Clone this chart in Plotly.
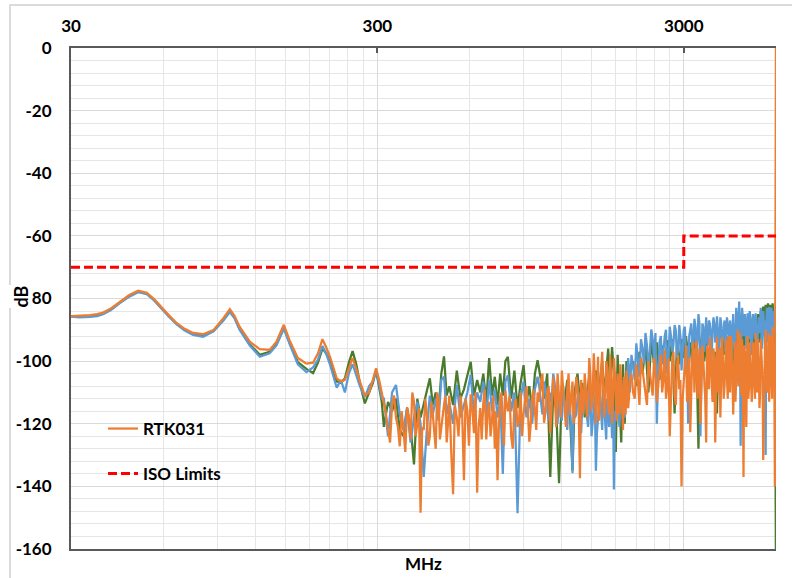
import math
import plotly.graph_objects as go

# ---------------- data ----------------
# Smooth part of the sweep, 30 - 310 MHz
freq_low = [30, 32, 34.6, 36.5, 38.2, 40.5, 43.3, 46.5, 49.7, 53,
            56, 58.9, 62.5, 66.4, 70.5, 75.1, 81, 87.5, 94.3, 99,
            102.5, 106.5, 111, 115, 124, 133.5, 140.5, 148.5, 155, 165,
            176, 185, 192, 198.5, 204, 210, 221, 228, 235, 242,
            249, 256, 263, 273, 282, 290, 297, 304, 310]

rtk031_low = [-85.6, -85.5, -85.3, -85.0, -84.5, -83.2, -81.0, -78.9, -77.5, -78.2,
              -80.2, -82.6, -85.3, -87.9, -89.7, -91.0, -91.4, -90.1, -86.3, -83.4,
              -85.5, -89.0, -91.6, -93.8, -96.2, -96.4, -93.8, -88.4, -93.3, -99.0,
              -100.8, -100.5, -97.5, -93.0, -95.5, -98.6, -105.5, -106.5, -106.0, -102.5,
              -99.0, -102.5, -106.5, -111.0, -110.0, -106.0, -102.3, -106.0, -109.5]

blue_low = [-85.8, -86.0, -85.9, -85.6, -85.0, -83.7, -81.5, -79.4, -78.0, -78.6,
            -80.6, -83.0, -85.7, -88.3, -90.2, -91.6, -92.2, -90.5, -87.0, -84.3,
            -86.3, -90.0, -92.8, -95.0, -98.6, -97.5, -95.0, -89.6, -94.5, -101.0,
            -103.5, -102.0, -99.5, -95.2, -97.5, -101.0, -108.5, -106.0, -110.0, -104.0,
            -101.0, -104.5, -108.0, -111.5, -108.0, -106.5, -103.0, -107.5, -112.0]

green_low = [-85.7, -85.8, -85.6, -85.3, -84.8, -83.5, -81.3, -79.2, -77.8, -78.4,
             -80.4, -82.8, -85.5, -88.1, -90.0, -91.3, -91.8, -90.4, -86.8, -84.0,
             -86.0, -89.7, -92.4, -94.6, -98.0, -97.0, -94.6, -89.4, -94.0, -100.3,
             -102.5, -103.8, -100.5, -96.0, -97.5, -100.0, -106.5, -107.0, -105.5, -100.5,
             -96.8, -101.0, -107.0, -113.5, -110.0, -107.0, -103.0, -108.0, -113.0]

# Noisy part of the sweep, 315 - 6000 MHz
freq_high = [315, 325, 335, 345, 355, 365, 375, 385, 395, 405,
             415, 425, 435, 445, 455, 465, 475, 485, 495, 505,
             515, 530, 545, 560, 575, 590, 605, 620, 635, 650,
             665, 680, 695, 710, 725, 740, 755, 770, 785, 800,
             820, 840, 860, 880, 900, 920, 940, 960, 980, 1000,
             1025, 1050, 1075, 1100, 1125, 1150, 1175, 1200, 1225, 1250,
             1275, 1300, 1325, 1350, 1375, 1400, 1425, 1450, 1475, 1500,
             1525, 1550, 1575, 1600, 1625, 1650, 1675, 1700, 1725, 1750,
             1775, 1800, 1825, 1850, 1875, 1900, 1925, 1950, 1975, 2000,
             2050, 2100, 2150, 2200, 2250, 2300, 2350, 2400, 2450, 2500,
             2550, 2600, 2650, 2700, 2750, 2800, 2850, 2900, 2950, 3000,
             3050, 3100, 3150, 3200, 3250, 3300, 3350, 3400, 3450, 3500,
             3550, 3600, 3650, 3700, 3750, 3800, 3850, 3900, 3950, 4000,
             4050, 4100, 4150, 4200, 4250, 4300, 4350, 4400, 4450, 4500,
             4550, 4600, 4650, 4700, 4750, 4800, 4850, 4900, 4950, 5000,
             5050, 5100, 5150, 5200, 5250, 5300, 5350, 5400, 5450, 5500,
             5550, 5600, 5650, 5700, 5750, 5800, 5850, 5900, 5950, 6000]

rtk031_high = [-113.4, -122, -113.8, -118, -127.2, -122, -114.7, -125, -113, -120,
               -148.4, -122, -117, -124, -117, -128, -112, -121, -114, -126,
               -111, -142.5, -118, -111, -138, -116, -110.6, -123, -142, -115,
               -113.4, -125, -113, -119, -128, -138, -112, -120, -109.5, -116,
               -124, -114, -121, -110, -117, -108, -125.7, -112, -118, -110,
               -106.5, -119.7, -110, -123, -105, -121, -112, -103, -115, -109,
               -117, -106.5, -114, -108, -137.4, -112, -104, -118, -99, -116,
               -97.5, -120, -98.6, -114, -97, -118, -100, -115, -98, -120,
               -99, -113, -104, -117, -108, -122, -110, -103, -115, -106,
               -110, -101, -114, -103, -112, -100, -108, -99, -113, -101,
               -110, -96.5, -108, -124, -100, -111, -102, -109, -140, -104,
               -95, -108, -122.7, -97, -110, -93.5, -104, -120, -95, -106,
               -126, -98, -92.5, -107, -96, -126, -92.3, -100, -118, -92.3,
               -112, -96, -105, -92, -110, -99, -117, -94, -106, -90,
               -95, -102, -93, -137, -97, -121, -92, -108, -100, -113,
               -94, -105, -91, -110, -98, -115, -93, -104, -131.6, -99,
               -90, -109, -95, -113, -92, -104, -89, -108, -140, 10]

blue_high = [-112, -124, -110, -107.6, -117, -122, -115, -126, -118, -113,
             -120, -137, -122, -111, -117, -112, -119, -106, -105, -117,
             -113, -120, -107.6, -118, -114, -110, -104.3, -117, -110, -113,
             -106.5, -118, -106, -116, -109, -118, -111, -136, -106.5, -104.5,
             -116, -110, -148.6, -112, -106.5, -118, -112, -120, -109, -105,
             -112, -106.5, -115, -110, -104, -116, -111, -119, -113, -122,
             -115, -135.8, -118, -112, -120, -114, -109, -118, -113, -124,
             -115, -135, -117, -111, -122, -114, -125, -118, -112, -124.6,
             -141, -119, -112, -121, -115, -110, -118, -108, -99, -110,
             -103, -94.3, -105, -96, -91, -102, -89.9, -99, -120, -94,
             -101, -92, -104, -89, -97, -88.5, -99, -88.5, -103, -90,
             -98, -120, -89, -96, -86.5, -97, -85, -124, -88, -97,
             -86, -95, -88, -99, -86, -94, -85.7, -98, -86, -95,
             -88, -97, -86, -94, -87, -99, -85, -93, -83, -91,
             -81, -127, -83, -92, -85, -96, -84.7, -93, -86, -98,
             -85, -92, -84.7, -97, -86, -91, -83, -96, -84, -92,
             -130, -83, -94, -82.7, -90, -83, -95, -84, -91, -84]

green_high = [-121, -113, -116, -112, -122, -124, -115, -121, -133, -112,
              -118, -114, -110, -105.5, -114, -110, -116, -104, -98.5, -111,
              -108, -114, -103, -112, -109, -104, -100.2, -111, -106, -110,
              -104, -113, -99, -111, -105, -114, -104, -111, -100, -98.6,
              -112, -103, -115, -107, -101.3, -113, -108, -116, -104, -99.7,
              -106, -112, -104, -137, -110, -115, -139, -108, -113, -106,
              -117, -135, -109, -104, -113, -107, -118, -110, -105, -114,
              -108, -103, -112, -106, -100, -111, -103, -96, -108, -95.5,
              -104, -129, -98, -110, -126, -101, -120, -100, -112, -104,
              -100, -108, -97, -104, -95, -110, -93.3, -101, -94, -106,
              -95, -103, -93.3, -100, -93, -116.7, -95, -101, -93, -99,
              -92, -98, -94, -102, -92, -97, -128, -95, -91, -100,
              -93, -105, -96, -103, -109, -97, -116.7, -94, -105, -93,
              -98, -90, -99, -92, -101, -90, -110, -93, -88, -98,
              -87, -95, -89, -97, -88, -94, -87, -96, -88, -93,
              -86, -97, -88, -92, -85, -94, -84, -90, -82.6, -89,
              -82, -91, -81.5, -88, -82, -90, -81.5, -87, -84, -170]

# Extra in-between samples of the dense noisy band
fill_freq_a = [320, 330, 340, 350, 360, 370, 380, 390, 400, 410,
               420, 430, 440, 450, 460, 470, 480, 490, 500, 510,
               522, 537, 552, 567, 582, 597, 612, 627, 642, 657,
               672, 687, 702, 717, 732, 747, 762, 777, 792,
               810, 830, 850, 870, 890, 910, 930, 950, 970, 990]

rtk031_fill_a = [-117, -126, -111, -121, -116, -129, -118, -110, -124, -115,
                 -121, -112, -127, -113, -122, -110, -125, -116, -111, -120,
                 -128, -114, -124, -116, -112, -127, -115, -110, -121, -125,
                 -109, -117, -124, -111, -116, -122, -110, -127, -114,
                 -111, -128, -112, -119, -124, -113, -116, -120, -109, -122]

fill_freq_b = [1012, 1037, 1062, 1087, 1112, 1137, 1162, 1187, 1212, 1237,
               1262, 1287, 1312, 1337, 1362, 1387, 1412, 1437, 1462, 1487,
               1512, 1537, 1562, 1587, 1612, 1637, 1662, 1687, 1712, 1737,
               1762, 1787, 1812, 1837, 1862, 1887, 1912, 1937, 1962, 1987,
               2025, 2075, 2125, 2175, 2225, 2275, 2325, 2375, 2425, 2475,
               2525, 2575, 2625, 2675, 2725, 2775, 2825, 2875, 2925, 2975,
               3025, 3075, 3125, 3175, 3225, 3275, 3325, 3375, 3425, 3475,
               3525, 3575, 3625, 3675, 3725, 3775, 3825, 3875, 3925, 3975,
               4025, 4075, 4125, 4175, 4225, 4275, 4325, 4375, 4425, 4475,
               4525, 4575, 4625, 4675, 4725, 4775, 4825, 4875, 4925, 4975,
               5025, 5075, 5125, 5175, 5225, 5275, 5325, 5375, 5425, 5475,
               5525, 5575, 5625, 5675, 5725, 5775, 5825, 5875, 5925]

rtk031_fill_b = [-113, -104, -116, -108, -114, -110, -104, -118, -110, -121,
                 -104, -112, -120, -105, -115, -106, -117, -109, -112, -105,
                 -112, -104, -110, -119, -103, -108, -113, -102, -117, -106,
                 -111, -104, -119, -109, -101, -112, -105, -117, -108, -112,
                 -104, -112, -106, -99, -107, -114, -104, -111, -103, -108,
                 -98, -106, -112, -99, -107, -97, -114, -98, -106, -112,
                 -101, -113, -99, -105, -94, -102, -112, -96, -108, -100,
                 -112, -95, -109, -97, -113, -99, -107, -110, -96, -105,
                 -99, -108, -93, -112, -98, -92, -104, -98, -113, -97,
                 -108, -91, -111, -104, -95, -107, -99, -112, -94, -103,
                 -108, -97, -112, -100, -93, -105, -110, -97, -106, -112,
                 -95, -103, -110, -91, -106, -99, -112, -96, -103]

blue_fill_b = [-108, -117, -109, -119, -113, -107, -120, -114, -108, -116,
               -110, -121, -113, -117, -110, -123, -116, -112, -121, -109,
               -118, -111, -123, -114, -117, -109, -119, -112, -121, -115,
               -110, -116, -109, -117, -111, -116, -106, -113, -104, -102,
               -98, -106, -99, -93, -101, -95, -97, -93, -91, -104,
               -92, -97, -90, -99, -92, -95, -90, -96, -92, -97,
               -89, -95, -92, -88, -94, -89, -93, -88, -95, -89,
               -93, -94, -87, -92, -90, -88, -93, -90, -93, -88,
               -92, -87, -93, -88, -95, -90, -88, -91, -96, -86,
               -88, -93, -88, -86, -91, -88, -91, -89, -84, -91,
               -89, -87, -93, -89, -92, -86, -90, -87, -93, -88,
               -87, -92, -86, -89, -93, -87, -89, -86, -88]

iso_freq = [30, 3000, 3000, 6000]
iso_db = [-70, -70, -60, -60]

x_major = [30, 300, 3000]
x_major_text = ["30", "300", "3000"]
x_minor = [60, 90, 120, 150, 180, 210, 240, 270,
           600, 900, 1200, 1500, 1800, 2100, 2400, 2700]
y_ticks = [0, -20, -40, -60, -80, -100, -120, -140, -160]
y_text = ["0", "-20", "-40", "-60", "-80", "-100", "-120", "-140", "-160"]

for arr in (rtk031_low, blue_low, green_low):
    assert len(arr) == len(freq_low)
for arr in (rtk031_high, blue_high, green_high):
    assert len(arr) == len(freq_high)
assert len(rtk031_fill_a) == len(fill_freq_a)
assert len(rtk031_fill_b) == len(fill_freq_b)
assert len(blue_fill_b) == len(fill_freq_b)


def merged(*pairs):
    pts = []
    for fx, fy in pairs:
        pts.extend(zip(fx, fy))
    pts.sort(key=lambda p: p[0])
    return [p[0] for p in pts], [p[1] for p in pts]


o_x, o_y = merged((freq_low, rtk031_low), (freq_high, rtk031_high),
                  (fill_freq_a, rtk031_fill_a), (fill_freq_b, rtk031_fill_b))
b_x, b_y = merged((freq_low, blue_low), (freq_high, blue_high),
                  (fill_freq_b, blue_fill_b))
g_x, g_y = merged((freq_low, green_low), (freq_high, green_high))

# ---------------- figure ----------------
FONT = "Lato"
ORANGE = "#ED7D31"
BLUE = "#5B9BD5"
GREEN = "#4A7A2C"
AXIS = "#595959"
LW = 2.25

fig = go.Figure()
fig.add_trace(go.Scatter(x=g_x, y=g_y, mode="lines", showlegend=False,
                         line=dict(color=GREEN, width=LW)))
fig.add_trace(go.Scatter(x=b_x, y=b_y, mode="lines", showlegend=False,
                         line=dict(color=BLUE, width=LW)))
fig.add_trace(go.Scatter(x=o_x, y=o_y, mode="lines", name="RTK031",
                         legend="legend",
                         line=dict(color=ORANGE, width=LW)))
fig.add_trace(go.Scatter(x=iso_freq, y=iso_db, mode="lines", name="ISO Limits",
                         legend="legend2",
                         line=dict(color="#FF0000", width=3, dash="9px,4px")))

L, R, T, B = 71, 16, 48, 29
W, H = 792, 578
pw, ph = W - L - R, H - T - B


def px_x(p):
    return (p - L) / pw


def px_y(p):
    return (H - B - p) / ph


legend_font = dict(family=FONT, size=17, color="#000000", weight="bold")

fig.update_layout(
    width=W, height=H,
    margin=dict(l=L, r=R, t=T, b=B, pad=0),
    paper_bgcolor="white", plot_bgcolor="white",
    font=dict(family=FONT, size=17, color="#000000"),
    legend=dict(x=px_x(103), y=px_y(429), xanchor="left", yanchor="middle",
                bgcolor="rgba(0,0,0,0)", font=legend_font, itemwidth=30),
    legend2=dict(x=px_x(103), y=px_y(474), xanchor="left", yanchor="middle",
                 bgcolor="rgba(0,0,0,0)", font=legend_font, itemwidth=30),
    xaxis=dict(
        type="log", range=[math.log10(30), math.log10(6000)],
        side="top", tickmode="array", tickvals=x_major, ticktext=x_major_text,
        tickfont=dict(family=FONT, size=17, color="#000000", weight="bold"),
        ticks="inside", ticklen=5, tickwidth=1.5, tickcolor=AXIS,
        ticklabelstandoff=7,
        showline=True, linecolor=AXIS, linewidth=2, mirror=True,
        showgrid=True, gridcolor="#D9D9D9", gridwidth=1,
        minor=dict(tickmode="array", tickvals=x_minor, showgrid=True,
                   gridcolor="#E6E6E6", gridwidth=1, ticks=""),
        zeroline=False,
    ),
    yaxis=dict(
        range=[-160, 0], tickmode="array", tickvals=y_ticks, ticktext=y_text,
        tickfont=dict(family=FONT, size=17, color="#000000", weight="bold"),
        ticks="", ticklabelstandoff=14,
        showline=True, linecolor=AXIS, linewidth=2,
        showgrid=True, gridcolor="#D9D9D9", gridwidth=1,
        minor=dict(tickmode="linear", tick0=0, dtick=4, showgrid=True,
                   gridcolor="#E6E6E6", gridwidth=1, ticks=""),
        zeroline=False,
    ),
    shapes=[dict(type="rect", xref="paper", yref="paper",
                 x0=px_x(10), x1=px_x(805), y0=px_y(595), y1=px_y(5),
                 line=dict(color="#CFCFCF", width=1.5), fillcolor="rgba(0,0,0,0)",
                 layer="above")],
    annotations=[
        dict(text="MHz", xref="paper", yref="paper", x=px_x(423), y=px_y(563),
             showarrow=False, xanchor="center", yanchor="middle",
             font=dict(family=FONT, size=17, color="#000000", weight="bold")),
        dict(text="dB", xref="paper", yref="paper", x=px_x(20.5), y=px_y(296),
             showarrow=False, textangle=-90, xanchor="center", yanchor="middle",
             bgcolor="white", borderpad=0,
             font=dict(family=FONT, size=18, color="#000000", weight="bold")),
    ],
)

fig.write_html("out.html", config={"displayModeBar": False},
               post_script="document.body.style.margin='0px';")
